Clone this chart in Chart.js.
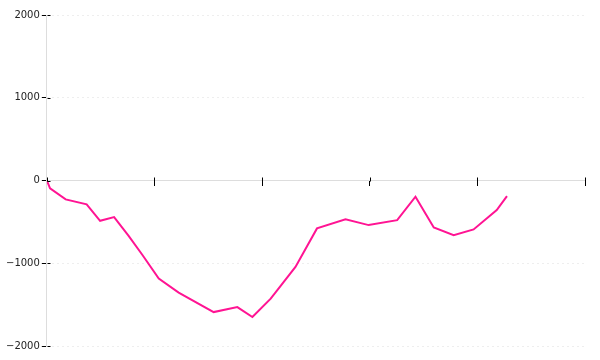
<!DOCTYPE html>
<html>
<head>
<meta charset="utf-8">
<script src="https://cdn.jsdelivr.net/npm/chart.js@4/dist/chart.umd.min.js"></script>
<style>
  html, body { margin: 0; padding: 0; background: #fff; }
  #wrap { width: 600px; height: 360px; }
</style>
</head>
<body>
<div id="wrap"><canvas id="chart" width="600" height="360"></canvas></div>
<script>
// values (x on a 0..100 scale, hidden tick labels)
const xValues = [0, 0.6, 3.5, 7.4, 9.9, 12.5, 15.2, 17.8, 20.8, 24.5, 31.0, 35.4, 38.2, 41.6, 46.2, 50.2, 55.5, 59.8, 65.1, 68.5, 71.9, 75.6, 79.3, 83.6, 85.5];
const yValues = [0, -94, -228, -288, -487, -442, -670, -903, -1185, -1355, -1590, -1530, -1650, -1428, -1045, -579, -470, -539, -479, -196, -567, -661, -591, -358, -188];
const xTicks = [0, 20, 40, 60, 80, 100];
const yTicks = [-2000, -1000, 0, 1000, 2000];

const points = xValues.map((x, i) => ({ x: x, y: yValues[i] }));

// tick marks that cross the axis line, drawn from the scales
const crossTicks = {
  id: 'crossTicks',
  afterDraw(chart) {
    const ctx = chart.ctx;
    const xs = chart.scales.x, ys = chart.scales.y;
    const axisY = Math.round(ys.getPixelForValue(0)) + 0.5;
    const axisX = Math.round(xs.getPixelForValue(0)) + 0.5;
    ctx.save();
    ctx.strokeStyle = '#000';
    ctx.lineWidth = 1;
    ctx.beginPath();
    xTicks.forEach(v => {
      const px = Math.round(xs.getPixelForValue(v)) + 0.5;
      ctx.moveTo(px, axisY - 4);
      ctx.lineTo(px, axisY);
    });
    yTicks.forEach(v => {
      const py = Math.round(ys.getPixelForValue(v)) + 0.5;
      ctx.moveTo(axisX, py);
      ctx.lineTo(axisX + 3, py);
    });
    ctx.stroke();
    ctx.restore();
  }
};

new Chart(document.getElementById('chart'), {
  type: 'line',
  data: {
    datasets: [{
      data: points,
      borderColor: '#ff1493',
      borderWidth: 2,
      pointRadius: 0,
      fill: false,
      tension: 0
    }]
  },
  options: {
    responsive: false,
    animation: false,
    layout: { padding: { left: 4, right: 15, top: 15, bottom: 14 } },
    plugins: { legend: { display: false }, tooltip: { enabled: false } },
    scales: {
      x: {
        type: 'linear',
        position: { y: 0 },
        min: 0,
        max: 100,
        afterBuildTicks: s => { s.ticks = xTicks.map(v => ({ value: v })); },
        ticks: { display: false },
        grid: { drawOnChartArea: false, drawTicks: true, tickLength: 5, tickColor: '#000' },
        border: { color: '#ddd', width: 1 }
      },
      y: {
        type: 'linear',
        min: -2000,
        max: 2000,
        afterBuildTicks: s => { s.ticks = yTicks.map(v => ({ value: v })); },
        ticks: {
          padding: 2,
          color: '#222',
          font: { family: 'DejaVu Sans', size: 10 },
          callback: v => String(v).replace('-', '\u2212')
        },
        grid: { color: '#eee', drawTicks: true, tickLength: 5, tickColor: '#000' },
        border: { color: '#ddd', width: 1, dash: [2, 3] }
      }
    }
  },
  plugins: [crossTicks]
});
</script>
</body>
</html>
